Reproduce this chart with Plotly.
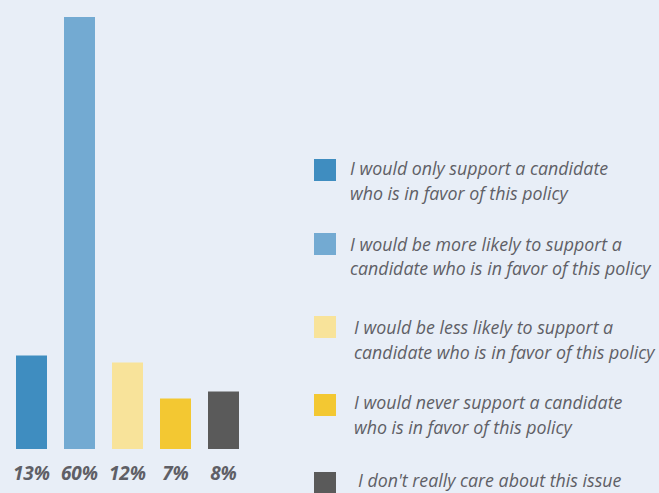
import plotly.graph_objects as go

categories = ["only", "more", "less", "never", "dontcare"]
values = [13, 60, 12, 7, 8]
tick_labels = ["13%", "60%", "12%", "7%", "8%"]
colors = ["#3f8dc0", "#73aad2", "#f8e39a", "#f3c832", "#5a5a5a"]
legend_labels = [
    "I would only support a candidate<br>who is in favor of this policy",
    "I would be more likely to support a<br>candidate who is in favor of this policy",
    "I would be less likely to support a<br>candidate who is in favor of this policy",
    "I would never support a candidate<br>who is in favor of this policy",
    "I don't really care about this issue",
]

W, H = 659, 493
BG = "#e8eef7"
TXT = "#5f5f66"
FONT = "Open Sans"

fig = go.Figure(go.Bar(
    x=categories, y=values, marker=dict(color=colors, line=dict(width=0)),
    hoverinfo="skip",
))

# legend (manual): square tops and text line centers in pixels
sq_tops = [159, 233, 316, 394, 472]
txt_x = [348, 348, 352, 352, 356]
line_y = [[168, 193], [244, 268], [327, 352], [402, 427], [480]]
shapes = []
annotations = []
for i, lab in enumerate(legend_labels):
    t = sq_tops[i]
    shapes.append(dict(type="rect", xref="paper", yref="paper",
                       x0=314 / W, x1=336 / W, y0=1 - (t + 22) / H, y1=1 - t / H,
                       fillcolor=colors[i], line=dict(width=0), layer="above"))
    for line, yy in zip(lab.split("<br>"), line_y[i]):
        annotations.append(dict(text=line, xref="paper", yref="paper",
                                x=txt_x[i] / W, y=1 - yy / H,
                                xanchor="left", yanchor="middle", align="left",
                                showarrow=False,
                                font=dict(family=FONT, size=17.8, color=TXT, style="italic")))

fig.update_layout(
    width=W, height=H,
    margin=dict(l=0, r=0, t=0, b=0),
    paper_bgcolor=BG, plot_bgcolor=BG,
    bargap=1 - 31 / 48,
    showlegend=False,
    shapes=shapes,
    annotations=annotations,
    xaxis=dict(domain=[7.5 / W, 247.5 / W], tickmode="array", tickvals=categories,
               ticktext=tick_labels, showgrid=False, zeroline=False, showline=False,
               ticks="", ticklabelstandoff=11,
               tickfont=dict(family=FONT, size=19, color=TXT, style="italic", weight="bold")),
    yaxis=dict(domain=[(H - 449) / H, (H - 17) / H], range=[0, 60], visible=False),
)

fig.write_html("out.html")
